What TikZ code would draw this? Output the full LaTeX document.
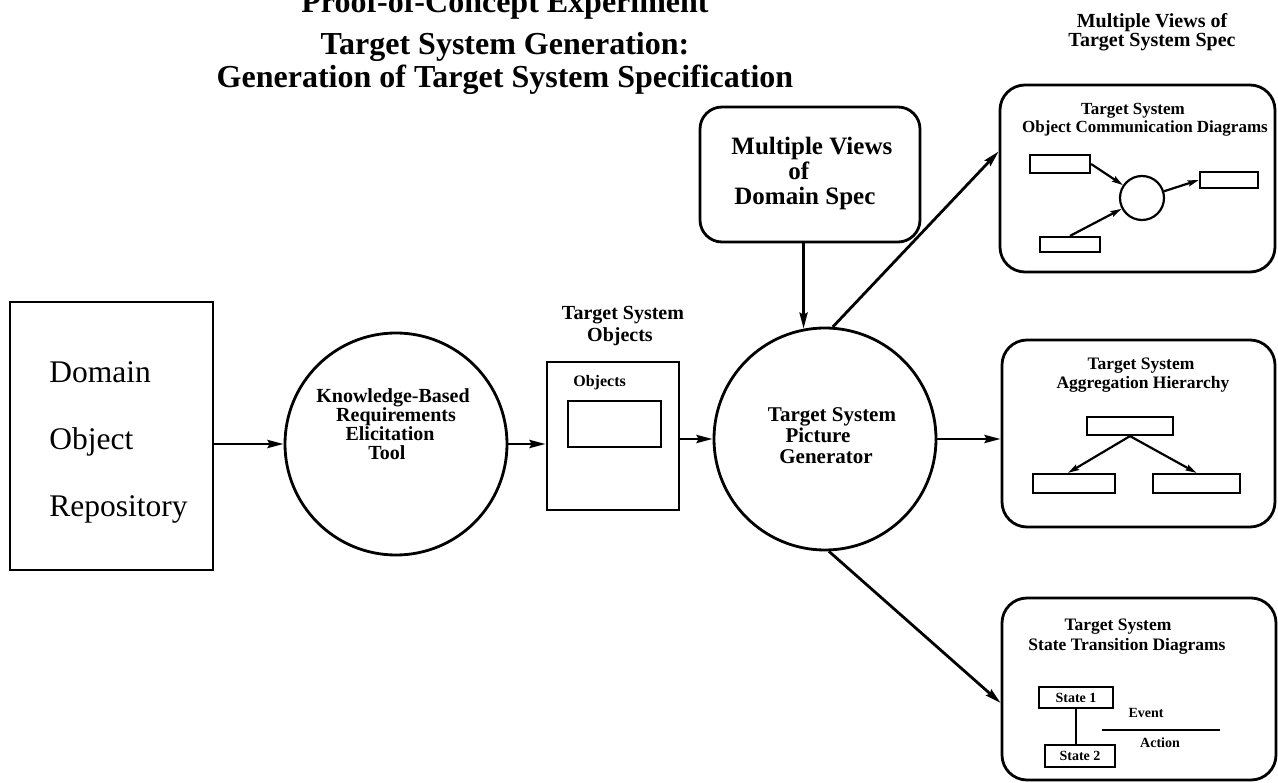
\documentclass[tikz,border=0pt]{standalone}
\usepackage{fontspec}
\setmainfont{Liberation Serif}
\usetikzlibrary{arrows.meta,calc}
\newcommand\setfs[1]{\fontsize{#1}{#1}\selectfont}
\begin{document}
\begin{tikzpicture}[x=1pt,y=-1pt,
  line width=2.8pt,
  arr/.style={-{Stealth[length=16pt,width=8pt,inset=2pt]}},
  sarr/.style={-{Stealth[length=11pt,width=6pt,inset=1.5pt]},line width=2.2pt},
  box/.style={draw,rectangle,inner sep=0pt},
  rbox/.style={draw,rectangle,rounded corners=22pt,inner sep=0pt},
  ring/.style={draw,circle,inner sep=0pt},
  small/.style={draw,rectangle,inner sep=0pt,line width=2.2pt},
  lbl/.style={inner sep=0pt,anchor=base,font=\bfseries}
]
\useasboundingbox (0,0) rectangle (1278,783);

% title
\node[lbl,font=\bfseries\setfs{32}] (t1) at (505,13) {Proof-of-Concept Experiment};
\node[lbl,font=\bfseries\setfs{32}] (t2) at (505,55) {Target System Generation:};
\node[lbl,font=\bfseries\setfs{32}] (t3) at (505,88) {Generation of Target System Specification};

% domain object repository
\node[box,minimum width=203pt,minimum height=268pt] (dom) at (111.5,436) {};
\node[inner sep=0pt,anchor=base west,font=\setfs{31.5}] (d1) at (48,383) {Domain};
\node[inner sep=0pt,anchor=base west,font=\setfs{31.5}] (d2) at (48,450) {Object};
\node[inner sep=0pt,anchor=base west,font=\setfs{31.5}] (d3) at (48,517) {Repository};

% elicitation tool
\node[ring,minimum size=222pt] (kb) at (396,444) {};
\node[lbl,font=\bfseries\setfs{20}] (k1) at (393,403) {Knowledge-Based};
\node[lbl,font=\bfseries\setfs{20}] (k2) at (396,422) {Requirements};
\node[lbl,font=\bfseries\setfs{20}] (k3) at (390,441) {Elicitation};
\node[lbl,font=\bfseries\setfs{20}] (k4) at (387,460) {Tool};

% target system objects
\node[lbl,font=\bfseries\setfs{20}] (o1) at (623,320) {Target System};
\node[lbl,font=\bfseries\setfs{20}] (o2) at (620,342) {Objects};
\node[box,minimum width=132pt,minimum height=148pt] (obj) at (613,436) {};
\node[inner sep=0pt,anchor=base west,font=\bfseries\setfs{16}] (o3) at (572,387) {Objects};
\node[small,minimum width=93pt,minimum height=46pt] (oin) at (614.5,424) {};

% picture generator
\node[ring,minimum size=222pt] (pg) at (825,439) {};
\node[lbl,font=\bfseries\setfs{21}] (p1) at (832,422) {Target System};
\node[lbl,font=\bfseries\setfs{21}] (p2) at (818,443) {Picture};
\node[lbl,font=\bfseries\setfs{21}] (p3) at (826,464) {Generator};

% domain views
\node[rbox,minimum width=220pt,minimum height=135pt] (mv) at (810,174.5) {};
\node[inner sep=0pt,anchor=base west,font=\bfseries\setfs{25}] (m1) at (730,155) {Multiple Views};
\node[inner sep=0pt,anchor=base west,font=\bfseries\setfs{25}] (m2) at (787,180) {of};
\node[inner sep=0pt,anchor=base west,font=\bfseries\setfs{25}] (m3) at (733,205) {Domain Spec};

% target views heading
\node[lbl,font=\bfseries\setfs{20}] (v1) at (1152,28) {Multiple Views of};
\node[lbl,font=\bfseries\setfs{20}] (v2) at (1152,47) {Target System Spec};

% object communication diagrams
\node[rbox,rounded corners=25pt,minimum width=275pt,minimum height=187pt] (ocd) at (1137.5,178.5) {};
\node[lbl,font=\bfseries\setfs{17}] (c1) at (1133,115) {Target System};
\node[lbl,font=\bfseries\setfs{17}] (c2) at (1145,133) {Object Communication Diagrams};
\node[small,minimum width=60pt,minimum height=18pt] (ca) at (1060,164) {};
\node[small,minimum width=58pt,minimum height=16pt] (cb) at (1229,180) {};
\node[small,minimum width=60pt,minimum height=15pt] (cc) at (1070,244.5) {};
\node[draw,circle,inner sep=0pt,line width=2.2pt,minimum size=44pt] (cp) at (1142,198) {};
\draw[sarr] (ca.east) -- (cp.146);
\draw[sarr] (cc.north) -- (cp.208);
\draw[sarr] (cp.17) -- (cb.west);

% aggregation hierarchy
\node[rbox,rounded corners=25pt,minimum width=273pt,minimum height=187pt] (agg) at (1138.5,433.5) {};
\node[lbl,font=\bfseries\setfs{17.5}] (a1) at (1141,370) {Target System};
\node[lbl,font=\bfseries\setfs{17.5}] (a2) at (1143,389) {Aggregation Hierarchy};
\node[small,minimum width=86pt,minimum height=18pt] (at) at (1130,426) {};
\node[small,minimum width=82pt,minimum height=19pt] (al) at (1074,483.5) {};
\node[small,minimum width=87pt,minimum height=19pt] (ar) at (1196.5,483.5) {};
\draw[sarr] (at.south) -- ([xshift=-6pt]al.north);
\draw[sarr] (at.south) -- (ar.north);

% state transition diagrams
\node[rbox,rounded corners=25pt,minimum width=274pt,minimum height=182pt] (st) at (1139,689) {};
\node[lbl,font=\bfseries\setfs{17.5}] (s1) at (1118,630) {Target System};
\node[lbl,font=\bfseries\setfs{17.5}] (s2) at (1127,650) {State Transition Diagrams};
\node[small,minimum width=74pt,minimum height=21pt,font=\bfseries\setfs{14}] (sa) at (1076,697.5) {State 1};
\node[small,minimum width=70pt,minimum height=22pt,font=\bfseries\setfs{14}] (sb) at (1080,756) {State 2};
\draw[line width=2.2pt] (sa.south) -- (sa.south |- sb.north);
\node[lbl,font=\bfseries\setfs{14}] (ev) at (1146,717) {Event};
\node[lbl,font=\bfseries\setfs{14}] (ac) at (1160,747) {Action};
\draw[line width=2.2pt] (1102,730) -- (1220,730);

% flow between the parts
\draw[arr] (dom.east |- kb.west) -- (kb.west);
\draw[arr] (kb.east) -- (obj.west |- kb.east);
\draw[arr] (obj.east |- pg.west) -- (pg.west);
\draw[arr] (mv.south -| pg.101) -- (pg.101);
\draw[arr] (pg.86) -- ([yshift=27pt]ocd.west);
\draw[arr] (pg.east) -- (agg.west |- pg.east);
\draw[arr] (pg.-88) -- ([yshift=-14pt]st.west);
\end{tikzpicture}
\end{document}
